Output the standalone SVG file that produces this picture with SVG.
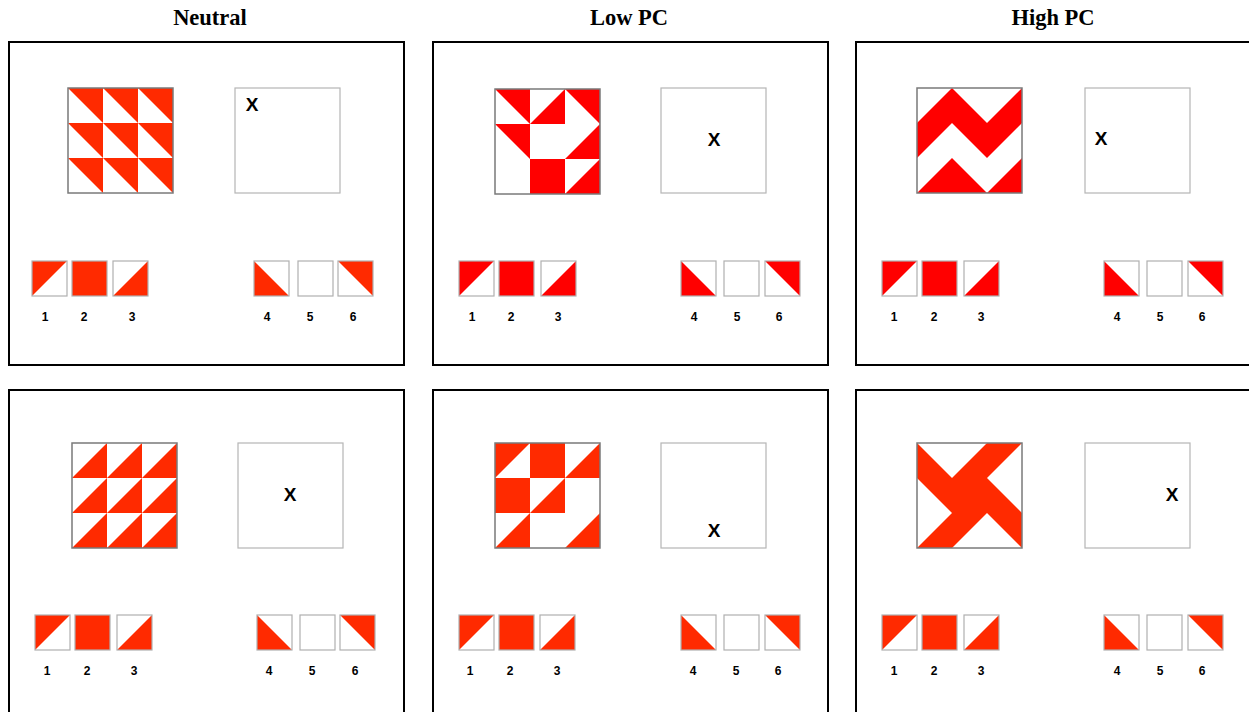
<svg xmlns="http://www.w3.org/2000/svg" xmlns:xlink="http://www.w3.org/1999/xlink" width="1249" height="712" viewBox="0 0 1249 712">
<style>
.title{font-family:"Liberation Serif",serif;font-weight:bold;font-size:22.5px;text-anchor:middle;fill:#000}
.num{font-family:"Liberation Sans",sans-serif;font-weight:bold;font-size:12px;text-anchor:middle;fill:#000}
.xm{font-family:"Liberation Sans",sans-serif;font-weight:bold;font-size:19px;text-anchor:middle;fill:#000}
.panel{fill:#fff;stroke:#000;stroke-width:2}
.pbox{fill:none;stroke:#7a7a7a;stroke-width:1.5}
.abox{fill:#fff;stroke:#b5b5b5;stroke-width:1.2}
.sbox{fill:none;stroke:#b0b0b0;stroke-width:1.2}
.ro{fill:#ff2a00}
.rr{fill:#ff0000}
</style>
<defs>
<polygon id="t1" points="0,0 35,0 0,35"/>
<rect id="t2" x="0" y="0" width="35" height="35"/>
<polygon id="t3" points="35,0 35,35 0,35"/>
<polygon id="t4" points="0,0 0,35 35,35"/>
<polygon id="t6" points="0,0 35,0 35,35"/>
</defs>
<rect width="1249" height="712" fill="#fff"/>
<text class="title" x="210" y="25">Neutral</text>
<text class="title" x="629" y="25">Low PC</text>
<text class="title" x="1053" y="25">High PC</text>

<!-- Neutral top -->
<g id="neutral-top">
<rect class="panel" x="9" y="42" width="395" height="323"/>
<g class="ro" transform="translate(68,88)">
<use xlink:href="#t6" x="0" y="0"/><use xlink:href="#t6" x="35" y="0"/><use xlink:href="#t6" x="70" y="0"/>
<use xlink:href="#t6" x="0" y="35"/><use xlink:href="#t6" x="35" y="35"/><use xlink:href="#t6" x="70" y="35"/>
<use xlink:href="#t6" x="0" y="70"/><use xlink:href="#t6" x="35" y="70"/><use xlink:href="#t6" x="70" y="70"/>
<rect class="pbox" x="0" y="0" width="105" height="105"/>
</g>
<rect class="abox" x="235" y="88" width="105" height="105"/>
<text class="xm" x="252" y="111">X</text>
<g class="ro" transform="translate(32,261)">
<use xlink:href="#t1" x="0" y="0"/><rect class="sbox" x="0" y="0" width="35" height="35"/>
<use xlink:href="#t2" x="40" y="0"/><rect class="sbox" x="40" y="0" width="35" height="35"/>
<use xlink:href="#t3" x="81" y="0"/><rect class="sbox" x="81" y="0" width="35" height="35"/>
<use xlink:href="#t4" x="222" y="0"/><rect class="sbox" x="222" y="0" width="35" height="35"/>
<rect class="sbox" x="266" y="0" width="35" height="35"/>
<use xlink:href="#t6" x="306" y="0"/><rect class="sbox" x="306" y="0" width="35" height="35"/>
</g>
<text class="num" x="45" y="321">1</text><text class="num" x="84" y="321">2</text><text class="num" x="132" y="321">3</text>
<text class="num" x="267" y="321">4</text><text class="num" x="310" y="321">5</text><text class="num" x="353" y="321">6</text>
</g>

<!-- Low PC top -->
<g id="lowpc-top">
<rect class="panel" x="433" y="42" width="395" height="323"/>
<g class="rr" transform="translate(495,89)">
<use xlink:href="#t6" x="0" y="0"/><use xlink:href="#t3" x="35" y="0"/><use xlink:href="#t6" x="70" y="0"/>
<use xlink:href="#t6" x="0" y="35"/><use xlink:href="#t3" x="70" y="35"/>
<use xlink:href="#t2" x="35" y="70"/><use xlink:href="#t3" x="70" y="70"/>
<rect class="pbox" x="0" y="0" width="105" height="105"/>
</g>
<rect class="abox" x="661" y="88" width="105" height="105"/>
<text class="xm" x="714" y="146">X</text>
<g class="rr" transform="translate(459,261)">
<use xlink:href="#t1" x="0" y="0"/><rect class="sbox" x="0" y="0" width="35" height="35"/>
<use xlink:href="#t2" x="40" y="0"/><rect class="sbox" x="40" y="0" width="35" height="35"/>
<use xlink:href="#t3" x="82" y="0"/><rect class="sbox" x="82" y="0" width="35" height="35"/>
<use xlink:href="#t4" x="222" y="0"/><rect class="sbox" x="222" y="0" width="35" height="35"/>
<rect class="sbox" x="265" y="0" width="35" height="35"/>
<use xlink:href="#t6" x="306" y="0"/><rect class="sbox" x="306" y="0" width="35" height="35"/>
</g>
<text class="num" x="472" y="321">1</text><text class="num" x="511" y="321">2</text><text class="num" x="558" y="321">3</text>
<text class="num" x="694" y="321">4</text><text class="num" x="737" y="321">5</text><text class="num" x="779" y="321">6</text>
</g>

<!-- High PC top -->
<g id="highpc-top">
<rect class="panel" x="856" y="42" width="400" height="323"/>
<g class="rr" transform="translate(917,88)">
<polygon points="0,35 35,0 70,35 105,0 105,35 70,70 35,35 0,70"/>
<polygon points="0,105 35,70 70,105"/>
<polygon points="70,105 105,70 105,105"/>
<rect class="pbox" x="0" y="0" width="105" height="105"/>
</g>
<rect class="abox" x="1085" y="88" width="105" height="105"/>
<text class="xm" x="1101" y="145">X</text>
<g class="rr" transform="translate(882,261)">
<use xlink:href="#t1" x="0" y="0"/><rect class="sbox" x="0" y="0" width="35" height="35"/>
<use xlink:href="#t2" x="40" y="0"/><rect class="sbox" x="40" y="0" width="35" height="35"/>
<use xlink:href="#t3" x="82" y="0"/><rect class="sbox" x="82" y="0" width="35" height="35"/>
<use xlink:href="#t4" x="222" y="0"/><rect class="sbox" x="222" y="0" width="35" height="35"/>
<rect class="sbox" x="265" y="0" width="35" height="35"/>
<use xlink:href="#t6" x="306" y="0"/><rect class="sbox" x="306" y="0" width="35" height="35"/>
</g>
<text class="num" x="894" y="321">1</text><text class="num" x="934" y="321">2</text><text class="num" x="981" y="321">3</text>
<text class="num" x="1117" y="321">4</text><text class="num" x="1160" y="321">5</text><text class="num" x="1202" y="321">6</text>
</g>

<!-- Neutral bottom -->
<g id="neutral-bottom">
<rect class="panel" x="9" y="390" width="395" height="340"/>
<g class="ro" transform="translate(72,443)">
<use xlink:href="#t3" x="0" y="0"/><use xlink:href="#t3" x="35" y="0"/><use xlink:href="#t3" x="70" y="0"/>
<use xlink:href="#t3" x="0" y="35"/><use xlink:href="#t3" x="35" y="35"/><use xlink:href="#t3" x="70" y="35"/>
<use xlink:href="#t3" x="0" y="70"/><use xlink:href="#t3" x="35" y="70"/><use xlink:href="#t3" x="70" y="70"/>
<rect class="pbox" x="0" y="0" width="105" height="105"/>
</g>
<rect class="abox" x="238" y="443" width="105" height="105"/>
<text class="xm" x="290" y="501">X</text>
<g class="ro" transform="translate(35,615)">
<use xlink:href="#t1" x="0" y="0"/><rect class="sbox" x="0" y="0" width="35" height="35"/>
<use xlink:href="#t2" x="40" y="0"/><rect class="sbox" x="40" y="0" width="35" height="35"/>
<use xlink:href="#t3" x="82" y="0"/><rect class="sbox" x="82" y="0" width="35" height="35"/>
<use xlink:href="#t4" x="222" y="0"/><rect class="sbox" x="222" y="0" width="35" height="35"/>
<rect class="sbox" x="265" y="0" width="35" height="35"/>
<use xlink:href="#t6" x="305" y="0"/><rect class="sbox" x="305" y="0" width="35" height="35"/>
</g>
<text class="num" x="47" y="675">1</text><text class="num" x="87" y="675">2</text><text class="num" x="134" y="675">3</text>
<text class="num" x="269" y="675">4</text><text class="num" x="312" y="675">5</text><text class="num" x="355" y="675">6</text>
</g>

<!-- Low PC bottom -->
<g id="lowpc-bottom">
<rect class="panel" x="433" y="390" width="395" height="340"/>
<g class="ro" transform="translate(495,443)">
<use xlink:href="#t1" x="0" y="0"/><use xlink:href="#t2" x="35" y="0"/><use xlink:href="#t3" x="70" y="0"/>
<use xlink:href="#t2" x="0" y="35"/><use xlink:href="#t3" x="35" y="35"/>
<use xlink:href="#t3" x="0" y="70"/><use xlink:href="#t3" x="70" y="70"/>
<rect class="pbox" x="0" y="0" width="105" height="105"/>
</g>
<rect class="abox" x="661" y="443" width="105" height="105"/>
<text class="xm" x="714" y="537">X</text>
<g class="ro" transform="translate(459,615)">
<use xlink:href="#t1" x="0" y="0"/><rect class="sbox" x="0" y="0" width="35" height="35"/>
<use xlink:href="#t2" x="40" y="0"/><rect class="sbox" x="40" y="0" width="35" height="35"/>
<use xlink:href="#t3" x="81" y="0"/><rect class="sbox" x="81" y="0" width="35" height="35"/>
<use xlink:href="#t4" x="222" y="0"/><rect class="sbox" x="222" y="0" width="35" height="35"/>
<rect class="sbox" x="265" y="0" width="35" height="35"/>
<use xlink:href="#t6" x="306" y="0"/><rect class="sbox" x="306" y="0" width="35" height="35"/>
</g>
<text class="num" x="470" y="675">1</text><text class="num" x="510" y="675">2</text><text class="num" x="557" y="675">3</text>
<text class="num" x="693" y="675">4</text><text class="num" x="736" y="675">5</text><text class="num" x="778" y="675">6</text>
</g>

<!-- High PC bottom -->
<g id="highpc-bottom">
<rect class="panel" x="856" y="390" width="400" height="340"/>
<g transform="translate(917,443)">
<rect class="ro" x="0" y="0" width="105" height="105"/>
<polygon fill="#fff" points="0,0 70,0 35,35"/>
<polygon fill="#fff" points="105,0 70,35 105,70"/>
<polygon fill="#fff" points="35,105 70,70 105,105"/>
<polygon fill="#fff" points="0,35 35,70 0,105"/>
<rect class="pbox" x="0" y="0" width="105" height="105"/>
</g>
<rect class="abox" x="1085" y="443" width="105" height="105"/>
<text class="xm" x="1172" y="501">X</text>
<g class="ro" transform="translate(882,615)">
<use xlink:href="#t1" x="0" y="0"/><rect class="sbox" x="0" y="0" width="35" height="35"/>
<use xlink:href="#t2" x="40" y="0"/><rect class="sbox" x="40" y="0" width="35" height="35"/>
<use xlink:href="#t3" x="82" y="0"/><rect class="sbox" x="82" y="0" width="35" height="35"/>
<use xlink:href="#t4" x="222" y="0"/><rect class="sbox" x="222" y="0" width="35" height="35"/>
<rect class="sbox" x="265" y="0" width="35" height="35"/>
<use xlink:href="#t6" x="306" y="0"/><rect class="sbox" x="306" y="0" width="35" height="35"/>
</g>
<text class="num" x="894" y="675">1</text><text class="num" x="934" y="675">2</text><text class="num" x="981" y="675">3</text>
<text class="num" x="1117" y="675">4</text><text class="num" x="1160" y="675">5</text><text class="num" x="1202" y="675">6</text>
</g>
<g id="connectors"/>
</svg>
